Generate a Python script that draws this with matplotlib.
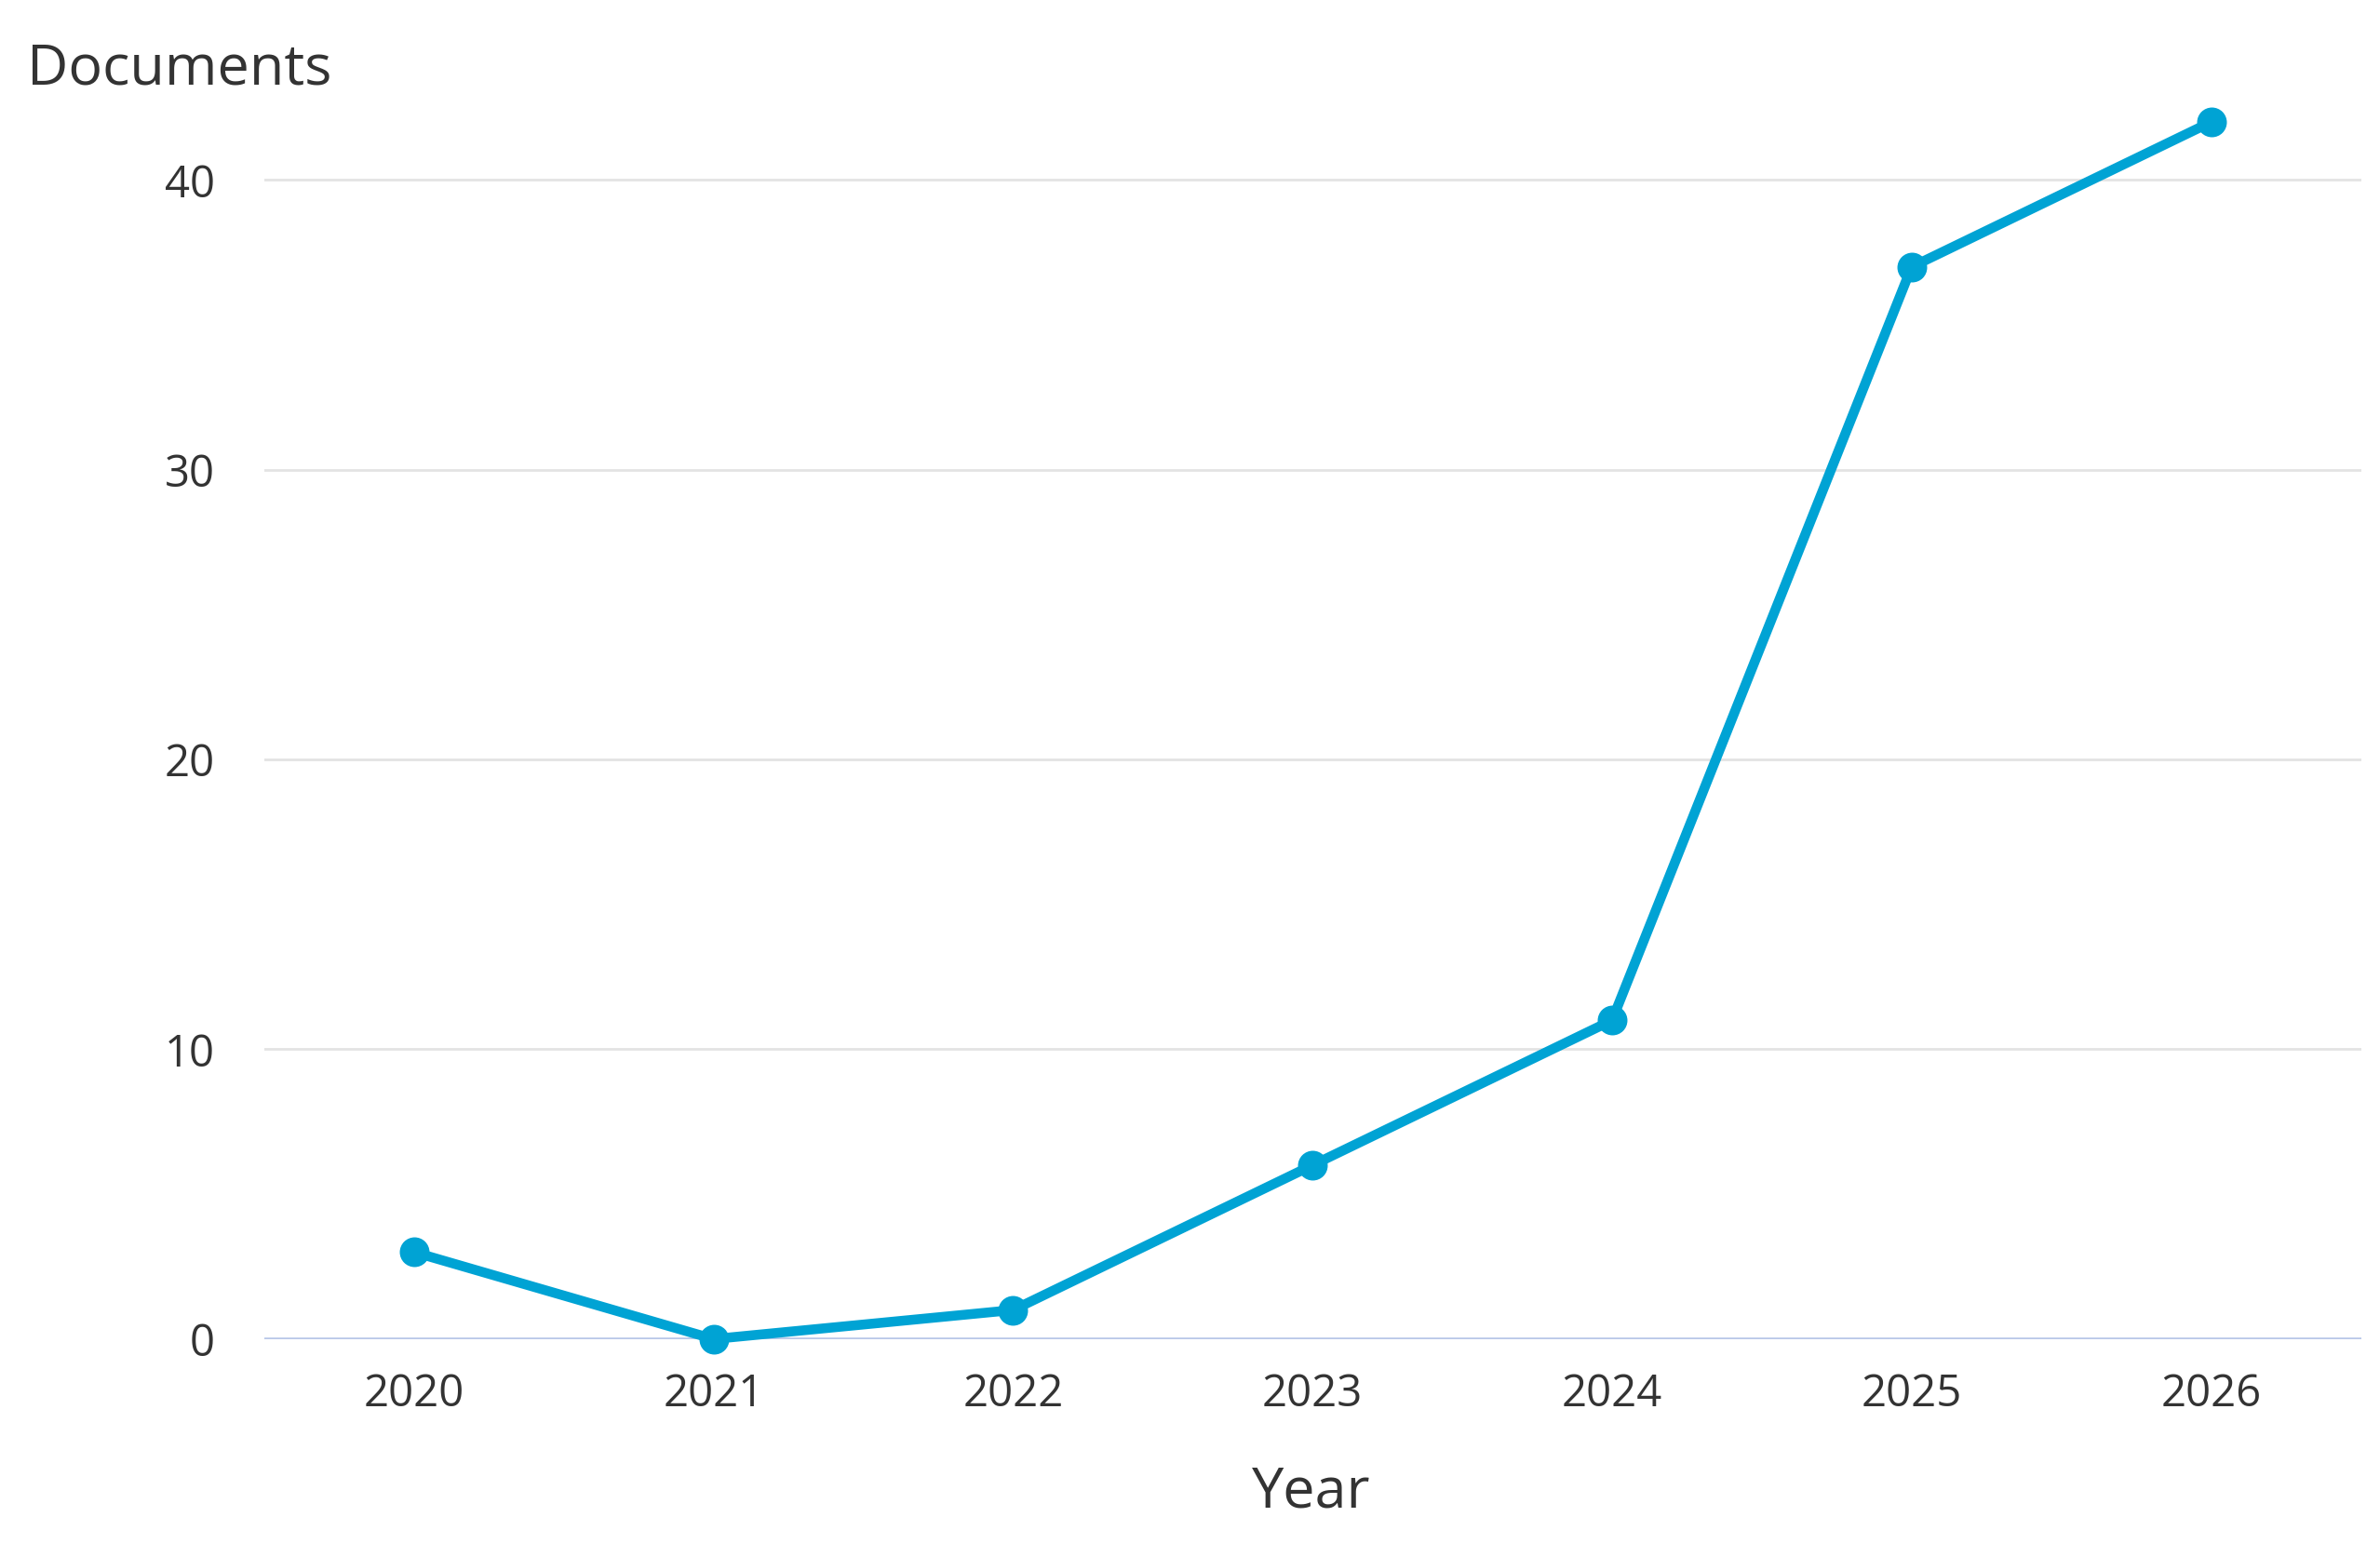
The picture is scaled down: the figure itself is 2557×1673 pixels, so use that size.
import matplotlib.pyplot as plt

years = [2020, 2021, 2022, 2023, 2024, 2025, 2026]
documents = [3, 0, 1, 6, 11, 37, 42]
y_ticks = [0, 10, 20, 30, 40]

plt.rcParams['font.family'] = ['Open Sans', 'DejaVu Sans']

fig = plt.figure(figsize=(12.785, 8.365), dpi=200)
ax = fig.add_axes([0.111, 0.140, 0.881, 44 * 0.01861])

ax.plot(years, documents, '-o', color='#00a3d4', lw=3.8, ms=10.5,
        clip_on=False, zorder=3)

ax.set_xlim(2019.5, 2026.5)
ax.set_ylim(0, 44)
ax.set_xticks(years)
ax.set_yticks(y_ticks)
ax.set_xticklabels([str(y) for y in years])

for t in y_ticks[1:]:
    ax.axhline(t, color='#e3e3e3', lw=1.0, zorder=1)
ax.axhline(0, color='#b9c8e8', lw=1.3, zorder=1)

for s in ax.spines.values():
    s.set_visible(False)
ax.tick_params(length=0, labelsize=17, colors='#333333')
ax.tick_params(axis='y', pad=19)
ax.tick_params(axis='x', pad=13)

fig.text(0.0115, 0.946, 'Documents', fontsize=22, color='#333333',
         ha='left', va='baseline')
fig.text(0.551, 0.032, 'Year', fontsize=22, color='#333333',
         ha='center', va='baseline')

fig.savefig('out.png', dpi=200, facecolor='white')
